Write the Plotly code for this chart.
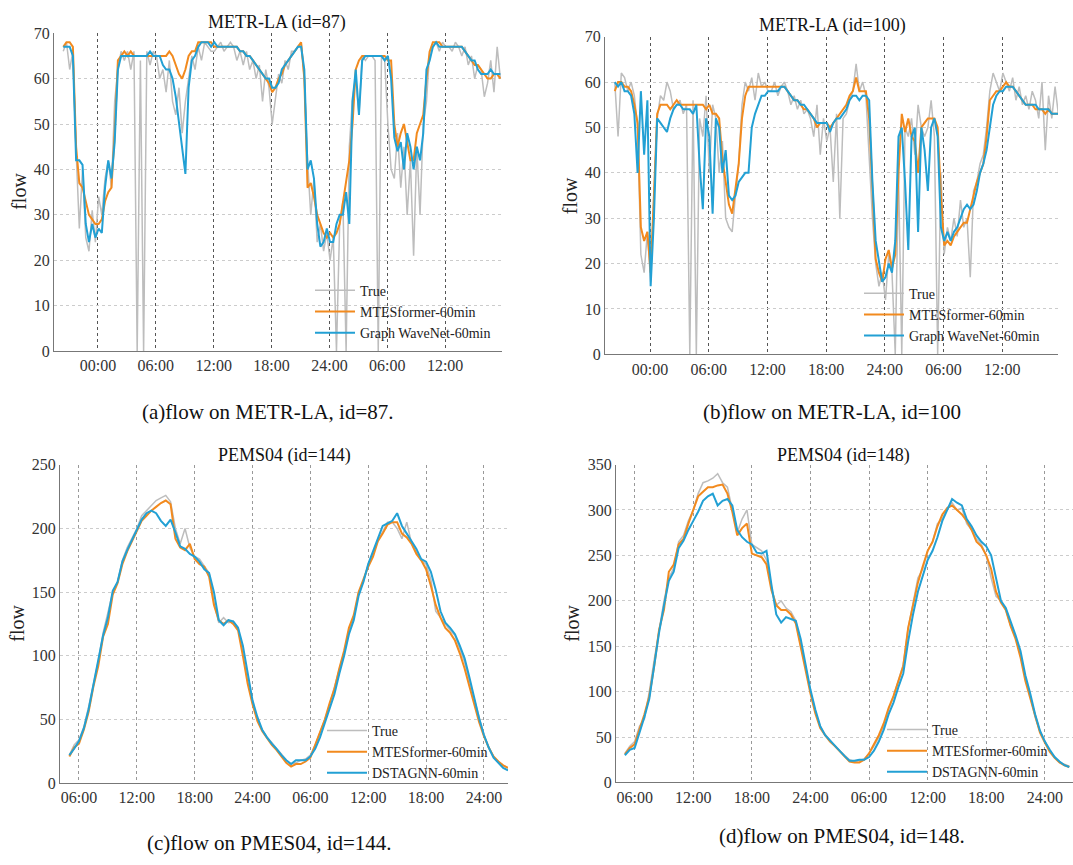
import numpy as np
import plotly.graph_objects as go

# ---------------- data ----------------
# METR-LA panels: 20-minute samples starting 3.6 h before 00:00 (hours)
METR_T0, METR_STEP = -3.6, 1 / 3
# PEMS04 panels: 30-minute samples starting at 05:00 (hours)
PEMS_T0, PEMS_STEP = 5.0, 0.5

A_TRUE = [66, 68, 62, 66, 44, 27, 40, 25, 22, 31, 24, 34,
          30, 38, 42, 36, 55, 62, 66, 64, 66, 62, 66, 0,
          64, 0, 66, 63, 66, 65, 60, 62, 57, 64, 55, 52,
          58, 48, 55, 60, 65, 62, 67, 64, 68, 67, 66, 66,
          67, 68, 66, 67, 68, 67, 64, 66, 63, 66, 62, 64,
          60, 63, 55, 62, 58, 50, 56, 61, 59, 64, 62, 66,
          66, 67, 68, 60, 42, 30, 38, 24, 28, 22, 26, 20,
          25, 0, 28, 33, 0, 45, 56, 60, 52, 65, 64, 65,
          65, 64, 0, 65, 64, 50, 40, 38, 48, 36, 45, 30,
          42, 21, 45, 30, 50, 55, 66, 67, 68, 66, 68, 67,
          67, 66, 68, 67, 65, 67, 63, 65, 60, 63, 62, 56,
          59, 64, 57, 67, 60]
A_MTES = [67, 68, 68, 67, 45, 37, 36, 33, 30, 29, 28, 28,
          29, 33, 35, 36, 48, 64, 65, 66, 65, 66, 65, 65,
          65, 65, 65, 65, 65, 65, 65, 65, 65, 66, 65, 63,
          61, 60, 62, 65, 66, 66, 68, 68, 68, 68, 68, 67,
          67, 67, 67, 67, 67, 67, 67, 66, 66, 65, 65, 64,
          63, 62, 61, 60, 59, 57, 58, 60, 61, 63, 64, 65,
          66, 67, 68, 60, 36, 37, 34, 30, 28, 26, 25, 26,
          25, 26, 28, 33, 38, 42, 50, 62, 64, 65, 65, 65,
          65, 65, 65, 65, 65, 64, 64, 50, 45, 48, 50, 46,
          42, 42, 48, 50, 52, 60, 66, 68, 68, 68, 67, 67,
          67, 67, 67, 67, 67, 66, 65, 64, 63, 63, 62, 61,
          60, 60, 61, 61, 60]
A_GWN = [67, 67, 67, 65, 42, 42, 41, 28, 24, 28, 25, 27,
         26, 36, 42, 38, 46, 62, 65, 65, 65, 65, 65, 65,
         65, 65, 65, 66, 65, 65, 65, 63, 62, 62, 60, 56,
         50, 45, 39, 58, 64, 65, 67, 68, 68, 68, 67, 68,
         67, 67, 67, 67, 67, 67, 67, 66, 66, 65, 65, 64,
         63, 62, 61, 60, 60, 58, 58, 59, 62, 63, 64, 65,
         66, 67, 67, 62, 40, 42, 38, 28, 23, 24, 27, 24,
         24, 28, 30, 30, 35, 28, 55, 62, 52, 64, 65, 65,
         65, 65, 65, 65, 64, 65, 60, 47, 44, 46, 40, 48,
         45, 40, 45, 42, 48, 62, 64, 67, 68, 67, 67, 67,
         67, 67, 67, 67, 67, 66, 65, 64, 64, 62, 61, 61,
         61, 62, 61, 61, 61]

B_TRUE = [60, 48, 62, 61, 58, 60, 57, 50, 22, 18, 27, 16,
          35, 52, 57, 56, 60, 58, 54, 55, 56, 53, 55, 0,
          56, 0, 52, 48, 57, 40, 55, 52, 40, 47, 30, 28,
          27, 35, 42, 55, 60, 58, 61, 56, 62, 59, 60, 58,
          58, 60, 57, 59, 60, 58, 55, 57, 54, 56, 53, 54,
          52, 48, 55, 44, 52, 47, 50, 38, 53, 30, 52, 53,
          56, 58, 64, 58, 60, 57, 44, 30, 20, 15, 18, 12,
          22, 18, 0, 40, 0, 50, 48, 52, 44, 55, 50, 48,
          50, 56, 48, 0, 40, 22, 28, 25, 30, 26, 34, 28,
          30, 17, 36, 38, 42, 44, 50, 58, 62, 60, 58, 62,
          60, 58, 61, 56, 59, 55, 57, 54, 58, 56, 52, 60,
          45, 57, 52, 59, 53]
B_MTES = [58, 60, 60, 59, 59, 58, 55, 51, 28, 25, 27, 18,
          35, 53, 55, 55, 55, 54, 55, 56, 55, 55, 55, 55,
          55, 55, 55, 55, 54, 55, 53, 53, 52, 43, 38, 33,
          31, 36, 42, 52, 57, 59, 59, 59, 59, 59, 59, 59,
          59, 59, 59, 59, 59, 58, 57, 56, 56, 55, 54, 54,
          53, 52, 50, 51, 51, 51, 50, 51, 52, 53, 54, 55,
          57, 58, 61, 58, 58, 58, 52, 35, 21, 18, 16, 21,
          23, 19, 22, 40, 53, 49, 52, 48, 47, 40, 50, 51,
          52, 52, 52, 50, 35, 24, 25, 24, 26, 27, 28, 29,
          29, 32, 35, 38, 40, 42, 48, 56, 57, 58, 58, 59,
          60, 59, 59, 58, 57, 56, 55, 55, 55, 54, 54, 54,
          53, 54, 53, 53, 53]
B_GWN = [60, 59, 60, 58, 58, 57, 53, 40, 58, 44, 56, 15,
         30, 52, 51, 50, 49, 52, 54, 55, 55, 54, 54, 54,
         53, 55, 42, 32, 52, 48, 31, 52, 50, 40, 45, 35,
         34, 35, 38, 39, 40, 40, 50, 53, 55, 57, 57, 58,
         58, 58, 58, 59, 59, 58, 57, 56, 56, 55, 55, 54,
         53, 52, 51, 51, 51, 51, 49, 51, 52, 52, 53, 54,
         56, 57, 57, 56, 57, 57, 56, 38, 25, 20, 16, 17,
         20, 18, 25, 48, 50, 38, 23, 48, 50, 27, 50, 45,
         36, 50, 52, 48, 28, 25, 27, 25, 27, 28, 30, 32,
         33, 32, 33, 36, 40, 42, 45, 50, 55, 57, 58, 58,
         59, 59, 59, 58, 57, 56, 55, 55, 55, 55, 54, 54,
         54, 54, 53, 53, 53]

C_TRUE = [22, 30, 34, 44, 60, 78, 96, 118, 133, 150, 158, 175,
          185, 192, 200, 210, 214, 218, 222, 224, 226, 221, 200, 188,
          200, 185, 178, 176, 170, 165, 142, 126, 130, 126, 127, 122,
          102, 80, 63, 50, 42, 36, 32, 27, 23, 18, 15, 16,
          18, 19, 22, 30, 40, 50, 62, 75, 90, 103, 120, 130,
          150, 158, 172, 180, 190, 198, 205, 205, 200, 192, 205, 188,
          182, 175, 172, 160, 135, 130, 125, 120, 116, 105, 95, 80,
          66, 50, 38, 28, 21, 17, 14, 12]
C_MTES = [21, 28, 31, 42, 56, 76, 92, 115, 125, 148, 157, 172,
          182, 190, 199, 206, 210, 214, 217, 220, 222, 219, 192, 185,
          183, 188, 176, 172, 170, 162, 140, 128, 125, 128, 125, 120,
          100, 78, 62, 49, 41, 35, 30, 26, 21, 16, 13, 15,
          15, 17, 20, 30, 40, 50, 63, 74, 90, 104, 122, 132,
          150, 160, 170, 178, 190, 196, 203, 205, 205, 196, 193, 188,
          180, 175, 168, 155, 140, 130, 122, 118, 112, 102, 90, 76,
          62, 48, 37, 28, 21, 17, 14, 12]
C_DST = [22, 27, 33, 43, 58, 78, 96, 116, 130, 151, 158, 174,
         183, 191, 200, 207, 212, 214, 212, 206, 202, 207, 197, 186,
         184, 180, 178, 174, 168, 165, 150, 128, 124, 128, 127, 122,
         108, 85, 65, 52, 42, 36, 31, 27, 22, 18, 15, 18,
         18, 18, 21, 27, 36, 47, 58, 70, 86, 100, 117, 128,
         147, 158, 172, 182, 193, 202, 204, 206, 212, 202, 196, 190,
         184, 176, 174, 166, 152, 135, 126, 122, 117, 108, 98, 83,
         66, 51, 38, 28, 20, 16, 12, 10]

D_TRUE = [32, 40, 45, 62, 70, 100, 135, 170, 200, 225, 236, 265,
          272, 288, 300, 318, 330, 332, 335, 340, 330, 325, 300, 275,
          290, 300, 262, 258, 255, 245, 215, 195, 200, 192, 188, 178,
          150, 128, 100, 78, 62, 53, 46, 40, 35, 30, 25, 23,
          24, 26, 32, 40, 50, 62, 80, 95, 112, 130, 170, 198,
          225, 235, 255, 265, 285, 290, 302, 308, 300, 302, 285, 278,
          268, 262, 250, 225, 205, 200, 190, 172, 160, 140, 115, 95,
          72, 56, 45, 35, 28, 22, 20, 18]
D_MTES = [31, 38, 42, 58, 75, 95, 128, 168, 190, 232, 240, 262,
          268, 285, 300, 315, 320, 325, 325, 327, 328, 318, 298, 272,
          280, 285, 252, 250, 248, 240, 212, 195, 190, 190, 185, 175,
          148, 124, 98, 76, 60, 52, 45, 40, 34, 28, 23, 22,
          22, 25, 32, 42, 52, 65, 82, 95, 112, 128, 170, 195,
          220, 238, 255, 265, 282, 295, 302, 305, 300, 295, 288, 278,
          265, 260, 250, 235, 210, 198, 190, 172, 158, 138, 112, 92,
          72, 55, 44, 34, 27, 22, 19, 17]
D_DST = [30, 36, 38, 55, 72, 92, 130, 165, 195, 222, 232, 258,
         266, 278, 288, 298, 310, 315, 318, 305, 310, 312, 305, 278,
         270, 265, 262, 253, 252, 255, 218, 185, 176, 182, 180, 178,
         158, 130, 102, 80, 62, 52, 46, 41, 34, 29, 24, 24,
         25, 25, 28, 35, 45, 58, 75, 88, 105, 120, 155, 185,
         210, 228, 245, 255, 270, 288, 300, 312, 308, 305, 290, 282,
         272, 265, 260, 250, 225, 200, 192, 178, 162, 145, 118, 98,
         75, 57, 45, 36, 28, 23, 19, 17]

METR_TICKS = [0, 6, 12, 18, 24, 30, 36]
METR_LABELS = ["00:00", "06:00", "12:00", "18:00", "24:00", "06:00", "12:00"]
PEMS_TICKS = [6, 12, 18, 24, 30, 36, 42, 48]
PEMS_LABELS = ["06:00", "12:00", "18:00", "24:00", "06:00", "12:00", "18:00", "24:00"]

# ---------------- style ----------------
W, H = 1073, 865
FONT = "Liberation Serif"
GRAY = "#bdbdbd"
ORANGE = "#f28a1e"
BLUE = "#22a0d4"


def px_x(p):
    return p / W


def px_y(p):
    return 1 - p / H


panels = [
    dict(key="", series=(A_TRUE, A_MTES, A_GWN), t0=METR_T0, step=METR_STEP,
         names=("True", "MTESformer-60min", "Graph WaveNet-60min"),
         dom_x=(54, 502), dom_y=(25.7, 350), xr=(-4.56, 41.9), yr=(0, 70), dy=10,
         tv=METR_TICKS, tt=METR_LABELS, vgrid="#555555",
         title="METR-LA (id=87)", title_xy=(277, 15),
         ylab_xy=(19.5, 187), cap="(a)flow on METR-LA, id=87.", cap_xy=(268, 412),
         leg_xy=(310, 272)),
    dict(key="2", series=(B_TRUE, B_MTES, B_GWN), t0=METR_T0, step=METR_STEP,
         names=("True", "MTESformer-60min", "Graph WaveNet-60min"),
         dom_x=(605, 1058), dom_y=(29.3, 353.3), xr=(-4.6, 41.7), yr=(0, 70), dy=10,
         tv=METR_TICKS, tt=METR_LABELS, vgrid="#555555",
         title="METR-LA (id=100)", title_xy=(832, 18),
         ylab_xy=(570, 192), cap="(b)flow on METR-LA, id=100", cap_xy=(832, 412),
         leg_xy=(859, 275)),
    dict(key="3", series=(C_TRUE, C_MTES, C_DST), t0=PEMS_T0, step=PEMS_STEP,
         names=("True", "MTESformer-60min", "DSTAGNN-60min"),
         dom_x=(60, 508), dom_y=(466, 790.7), xr=(4.03, 50.5), yr=(0, 250), dy=50,
         tv=PEMS_TICKS, tt=PEMS_LABELS, vgrid="#999999",
         title="PEMS04 (id=144)", title_xy=(284, 456),
         ylab_xy=(17, 628), cap="(c)flow on PMES04, id=144.", cap_xy=(269, 852),
         leg_xy=(322, 721)),
    dict(key="4", series=(D_TRUE, D_MTES, D_DST), t0=PEMS_T0, step=PEMS_STEP,
         names=("True", "MTESformer-60min", "DSTAGNN-60min"),
         dom_x=(616, 1073), dom_y=(465.7, 790), xr=(4.09, 50.88), yr=(0, 350), dy=50,
         tv=PEMS_TICKS, tt=PEMS_LABELS, vgrid="#999999",
         title="PEMS04 (id=148)", title_xy=(843, 456),
         ylab_xy=(572, 628), cap="(d)flow on PMES04, id=148.", cap_xy=(842, 845),
         leg_xy=(882, 720)),
]

fig = go.Figure()
layout = dict(width=W, height=H, autosize=False,
              margin=dict(l=0, r=0, t=0, b=0, pad=0),
              paper_bgcolor="white", plot_bgcolor="white",
              font=dict(family=FONT, color="#222222", size=15),
              annotations=[])

for i, p in enumerate(panels):
    k = p["key"]
    leg_name = "legend" + k
    colors = (GRAY, ORANGE, BLUE)
    widths = (1.5, 2, 2)
    for vals, name, col, w in zip(p["series"], p["names"], colors, widths):
        t = p["t0"] + p["step"] * np.arange(len(vals))
        fig.add_trace(go.Scatter(
            x=t, y=vals, mode="lines", name=name,
            line=dict(color=col, width=w),
            xaxis="x" + k, yaxis="y" + k, legend=leg_name, showlegend=True))

    tickfont = dict(family=FONT, size=16, color="#333333")
    layout["xaxis" + k] = dict(
        domain=[px_x(p["dom_x"][0]), px_x(p["dom_x"][1])],
        range=list(p["xr"]), anchor="y" + k,
        tickmode="array", tickvals=p["tv"], ticktext=p["tt"],
        showgrid=True, gridcolor=p["vgrid"], griddash="dot", gridwidth=1,
        showline=True, linecolor="#777777", linewidth=1.2,
        zeroline=False, ticks="", tickfont=tickfont)
    layout["yaxis" + k] = dict(
        domain=[px_y(p["dom_y"][1]), px_y(p["dom_y"][0])],
        range=list(p["yr"]), anchor="x" + k, dtick=p["dy"], tick0=0,
        showgrid=True, gridcolor="#cccccc", griddash="dot", gridwidth=1,
        showline=True, linecolor="#777777", linewidth=1.2,
        zeroline=False, ticks="", tickfont=tickfont)
    layout[leg_name] = dict(
        x=px_x(p["leg_xy"][0]), y=px_y(p["leg_xy"][1]),
        xanchor="left", yanchor="top", bgcolor="rgba(0,0,0,0)",
        borderwidth=0, font=dict(family=FONT, size=14, color="#222222"),
        tracegroupgap=0, itemwidth=40)
    layout["annotations"] += [
        dict(text=p["title"], x=px_x(p["title_xy"][0]), y=px_y(p["title_xy"][1]),
             xref="paper", yref="paper", showarrow=False, xanchor="center",
             yanchor="middle", font=dict(family=FONT, size=18, color="#111111")),
        dict(text="flow", x=px_x(p["ylab_xy"][0]), y=px_y(p["ylab_xy"][1]),
             xref="paper", yref="paper", showarrow=False, xanchor="center",
             yanchor="middle", textangle=-90,
             font=dict(family=FONT, size=20, color="#222222")),
        dict(text=p["cap"], x=px_x(p["cap_xy"][0]), y=px_y(p["cap_xy"][1]),
             xref="paper", yref="paper", showarrow=False, xanchor="center",
             yanchor="middle", font=dict(family=FONT, size=21, color="#111111")),
    ]

fig.update_layout(**layout)
fig.write_html("out.html")
